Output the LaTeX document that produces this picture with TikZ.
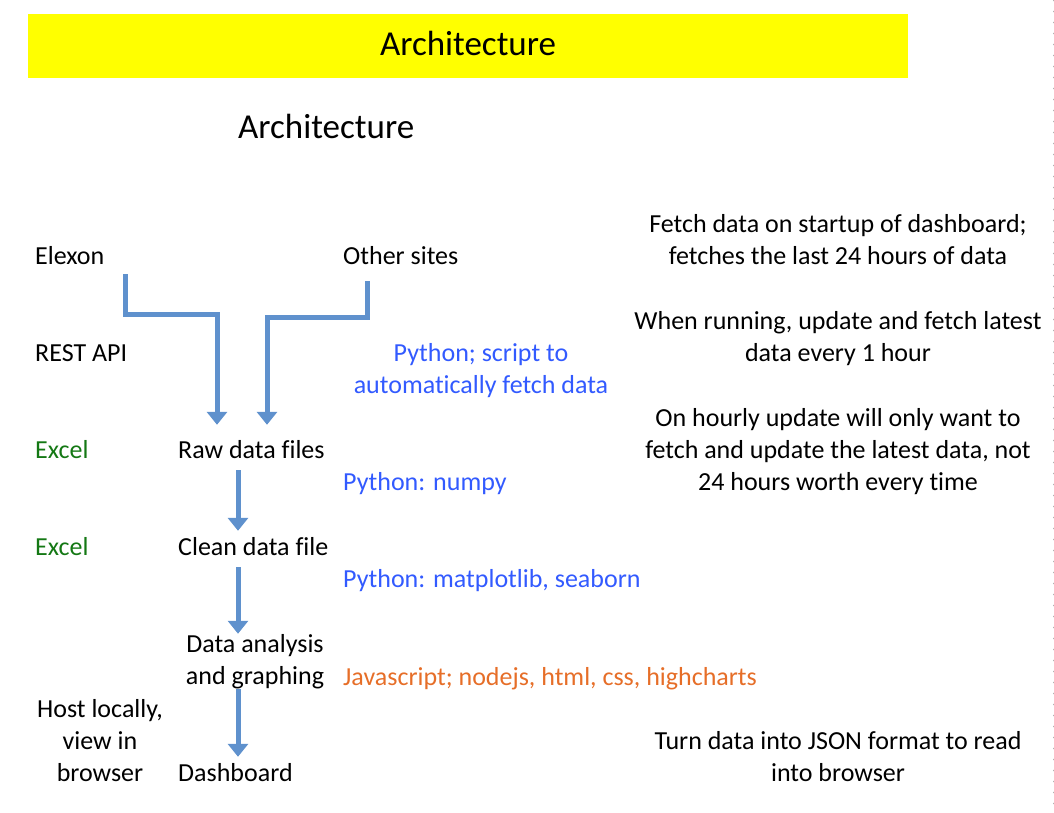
\documentclass[tikz,border=0pt]{standalone}
\usepackage{fontspec}
\setmainfont{Carlito}[Ligatures=NoCommon]
\usetikzlibrary{arrows.meta,calc}
\definecolor{flowblue}{RGB}{95,145,205}
\definecolor{toolblue}{RGB}{50,90,255}
\definecolor{excelgreen}{RGB}{20,120,20}
\definecolor{jsorange}{RGB}{230,110,40}
\definecolor{banneryellow}{RGB}{255,255,0}
\begin{document}
\begin{tikzpicture}[line cap=round,line join=round,x=1pt,y=-1pt,
  txt/.style={inner sep=0pt,font=\fontsize{26}{32}\selectfont},
  stage/.style={txt,inner ysep=6pt,text height=18pt,text depth=6pt,anchor=base west},
  note/.style={txt,align=center,anchor=base},
  heading/.style={inner sep=0pt,font=\fontsize{35}{42}\selectfont},
  flow/.style={draw=flowblue,line width=5pt,line cap=butt,line join=miter,-{Triangle[width=20pt,length=13pt]}}]
\useasboundingbox (0,0) rectangle (1054,813);
\draw[black!30,dash pattern=on 1pt off 10pt] (1053,0) -- (1053,813);
\fill[banneryellow] (28,14) rectangle (908,78);
\node[heading,anchor=base] (bannertitle) at (468,56) {Architecture};
\node[heading,anchor=base west] (pagetitle) at (238,139) {Architecture};
\node[stage] (elexon) at (35,264) {Elexon};
\node[stage] (othersites) at (343,264) {Other sites};
\node[stage] (restapi) at (35,361) {REST API};
\node[stage,text=excelgreen] (excelraw) at (35,458) {Excel};
\node[stage] (raw) at (178,458) {Raw data files};
\node[stage,text=excelgreen] (excelclean) at (35,555) {Excel};
\node[stage] (clean) at (178,555) {Clean data file};
\node[note] (analysis) at (255,684) {Data analysis\\and graphing};
\node[note] (host) at (100,781) {Host locally,\\view in\\browser};
\node[stage] (dashboard) at (178,781) {Dashboard};
\node[note,text=toolblue] (fetchscript) at (481,393) {Python; script to\\automatically fetch data};
\node[stage,text=toolblue] (numpy) at (343,490) {Python: numpy};
\node[stage,text=toolblue] (plotlibs) at (343,587) {Python: matplotlib, seaborn};
\node[stage,text=jsorange] (webstack) at (343,685) {Javascript; nodejs, html, css, highcharts};
\node[note] (startup) at (838,264) {Fetch data on startup of dashboard;\\fetches the last 24 hours of data};
\node[note] (running) at (838,361) {When running, update and fetch latest\\data every 1 hour};
\node[note] (hourly) at (838,490) {On hourly update will only want to\\fetch and update the latest data, not\\24 hours worth every time};
\node[note] (json) at (838,781) {Turn data into JSON format to read\\into browser};
\coordinate (elexonfeed) at (125,274);
\coordinate (elexonbend) at (217,314);
\coordinate (otherfeed) at (367,281);
\coordinate (otherbend) at (267,317);
\coordinate (spine) at (238,0);
\draw[flow,shorten >=9pt] (elexonfeed) |- (elexonbend) -- (elexonbend |- raw.north);
\draw[flow,shorten >=9pt] (otherfeed) |- (otherbend) -- (otherbend |- raw.north);
\draw[flow] (raw.south -| spine) -- (clean.north -| spine);
\draw[flow] (clean.south -| spine) -- (analysis.north -| spine);
\draw[flow] (analysis.south -| spine) -- (dashboard.north -| spine);
\end{tikzpicture}
\end{document}
